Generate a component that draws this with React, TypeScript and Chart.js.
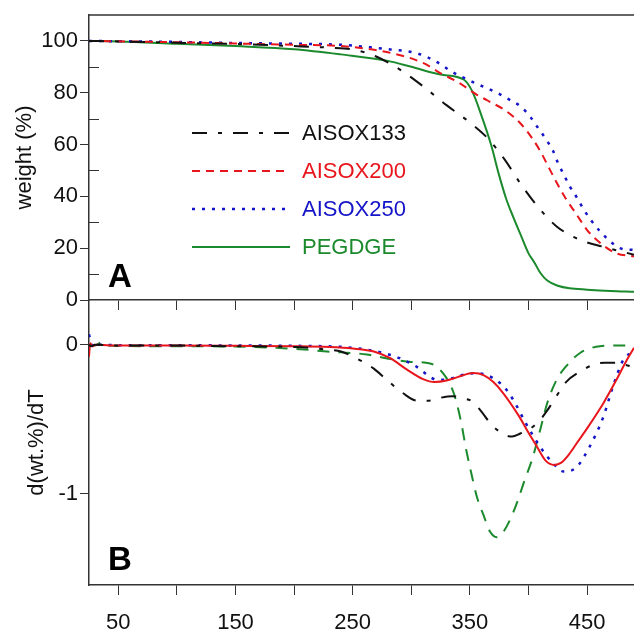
import { useEffect, useRef } from 'react';
import { Chart, registerables } from 'chart.js';

Chart.register(...registerables);

// ---------- axes ----------
const X_MIN = 25;
const X_MAX = 490;
const X_TICKS = [50, 100, 150, 200, 250, 300, 350, 400, 450];
const X_LABELED = [50, 150, 250, 350, 450];
const W_MIN = 0;
const W_MAX = 110;
const W_TICKS = [0, 20, 40, 60, 80, 100];
const W_MINOR = [10, 30, 50, 70, 90];
const D_MIN = -1.61;
const D_MAX = 0.3;
const D_TICKS = [-1, 0];

// ---------- series ----------
const NAMES = ['AISOX133', 'AISOX200', 'AISOX250', 'PEGDGE'];
const COLORS = ['#111111', '#e8161c', '#1414c8', '#1b8a2c'];

// TGA: weight (%)
const T_W133 = [25, 50, 100, 150, 200, 230, 250, 270, 290, 310, 330, 350, 365, 380, 393, 408, 424, 444, 464, 490];
const W133 = [100, 99.8, 99.3, 98.8, 98.0, 97.4, 96.7, 94.0, 89.0, 82.5, 75.2, 68.5, 62.5, 54.0, 45.0, 36.0, 28.4, 23.2, 20.5, 17.5];

const T_W200 = [25, 100, 150, 200, 240, 280, 310, 325, 340, 355, 365, 380, 393, 403, 410, 418, 425, 432, 441, 450, 460, 474, 490];
const W200 = [100, 99.5, 99.0, 98.5, 98.0, 95.6, 91.5, 87.5, 84.0, 79.5, 77.0, 73.2, 68.2, 62.5, 57.5, 50.5, 44.5, 39.0, 33.0, 27.0, 22.5, 18.2, 16.8];

const T_W250 = [25, 100, 150, 200, 240, 282, 305, 322, 335, 353, 373, 383, 393, 401, 408, 415, 421, 425, 430, 435, 441, 447, 453, 461, 470, 478, 490];
const W250 = [100, 99.6, 99.2, 98.9, 98.5, 96.7, 95.2, 91.8, 88.0, 84.0, 80.0, 77.5, 74.8, 71.0, 66.5, 62.0, 57.5, 53.0, 48.5, 44.0, 39.7, 35.0, 31.0, 26.5, 22.5, 20.0, 19.3];

const T_WPEG = [25, 50, 100, 150, 200, 240, 280, 300, 325, 345, 352, 360, 368, 375, 381, 387, 393, 400, 405, 410, 416, 425, 435, 450, 470, 490];
const WPEG = [100, 99.8, 98.9, 98.0, 96.8, 94.8, 92.3, 90.0, 87.0, 85.0, 80.5, 71.0, 60.0, 48.0, 39.0, 32.0, 25.5, 18.0, 14.5, 10.5, 7.5, 5.5, 4.5, 4.0, 3.5, 3.2];

// DTG: d(wt.%)/dT
const T_D133 = [25, 27, 30, 50, 100, 150, 200, 225, 240, 253, 268, 279, 293, 305, 315, 325, 335, 345, 352, 359, 369, 380, 386, 393, 400, 408, 416, 425, 432, 444, 455, 465, 475, 483, 490];
const D133 = [0, -0.01, 0, -0.005, -0.005, -0.01, -0.015, -0.03, -0.045, -0.09, -0.16, -0.235, -0.325, -0.375, -0.375, -0.355, -0.345, -0.36, -0.38, -0.44, -0.54, -0.605, -0.615, -0.595, -0.57, -0.52, -0.44, -0.33, -0.25, -0.18, -0.135, -0.12, -0.12, -0.135, -0.15];

const T_D200 = [25, 26, 28, 31, 50, 100, 150, 200, 230, 250, 268, 282, 296, 310, 320, 330, 340, 353, 362, 370, 378, 392, 400, 407, 415, 422, 428, 435, 442, 450, 464, 475, 484, 490];
const D200 = [-0.08, 0.01, -0.01, 0, -0.005, -0.005, -0.007, -0.01, -0.015, -0.025, -0.045, -0.09, -0.165, -0.23, -0.25, -0.24, -0.215, -0.19, -0.205, -0.25, -0.32, -0.48, -0.59, -0.68, -0.78, -0.805, -0.79, -0.73, -0.65, -0.56, -0.39, -0.235, -0.1, -0.02];

const T_D250 = [25, 27, 30, 33, 50, 100, 150, 200, 250, 276, 290, 305, 315, 322, 332, 345, 356, 365, 373, 380, 387, 398, 410, 421, 430, 441, 452, 464, 472, 481, 490];
const D250 = [0.07, 0.01, -0.02, 0, -0.003, -0.003, -0.005, -0.007, -0.02, -0.055, -0.09, -0.15, -0.21, -0.235, -0.23, -0.2, -0.19, -0.205, -0.24, -0.29, -0.37, -0.53, -0.685, -0.795, -0.85, -0.82, -0.685, -0.48, -0.28, -0.1, -0.045];

const T_DPEG = [25, 30, 37, 42, 50, 100, 150, 205, 228, 262, 282, 300, 316, 327, 336, 342, 347, 352, 356, 362, 367, 373, 378, 385, 391, 397, 403, 410, 416, 424, 432, 444, 461, 478, 490];
const DPEG = [0, -0.005, 0.022, -0.005, -0.008, -0.01, -0.012, -0.03, -0.045, -0.065, -0.095, -0.115, -0.125, -0.19, -0.32, -0.5, -0.71, -0.89, -1.02, -1.15, -1.25, -1.29, -1.26, -1.16, -1.04, -0.9, -0.77, -0.57, -0.39, -0.235, -0.145, -0.055, -0.01, -0.005, -0.005];

// ---------- styles ----------
const FONT = "'Liberation Sans', Arial, sans-serif";
const AXIS = '#333333';
const TEXT = '#111111';
const DASH_TOP = [[15, 11, 4, 11], [8, 6], [3, 7], []];
const DASH_BOT = [[15, 11, 4, 11], [], [3, 7], [12, 9]];

const pts = (xs: number[], ys: number[]) => xs.map((x, i) => ({ x, y: ys[i] }));

const TOP_SERIES = [pts(T_W133, W133), pts(T_W200, W200), pts(T_W250, W250), pts(T_WPEG, WPEG)];
const BOT_SERIES = [pts(T_D133, D133), pts(T_D200, D200), pts(T_D250, D250), pts(T_DPEG, DPEG)];

const makeDatasets = (series: { x: number; y: number }[][], dashes: number[][]) =>
  series.map((data, i) => ({
    label: NAMES[i],
    data,
    borderColor: COLORS[i],
    borderDash: dashes[i],
    borderWidth: dashes[i].length === 2 && dashes[i][0] === 3 ? 2.5 : 2,
    pointRadius: 0,
    fill: false,
    cubicInterpolationMode: 'monotone' as const,
  }));

const xScale = (showLabels: boolean, height: number) => ({
  type: 'linear' as const,
  min: X_MIN,
  max: X_MAX,
  afterBuildTicks: (s: any) => {
    s.ticks = X_TICKS.map((v) => ({ value: v }));
  },
  afterFit: (s: any) => {
    s.height = height;
    s.paddingLeft = 0;
    s.paddingRight = 0;
  },
  grid: { drawOnChartArea: false, drawTicks: true, tickLength: 10, color: AXIS, lineWidth: 1 },
  border: { display: true, color: AXIS, width: 1.5 },
  ticks: {
    display: showLabels,
    padding: 15,
    color: TEXT,
    font: { family: FONT, size: 22 },
    maxRotation: 0,
    autoSkip: false,
    callback: (v: any) => (X_LABELED.includes(Number(v)) ? String(v) : ''),
  },
});

const yScale = (min: number, max: number, ticks: number[], title: string, titlePad: number) => ({
  type: 'linear' as const,
  min,
  max,
  afterBuildTicks: (s: any) => {
    s.ticks = ticks.map((v) => ({ value: v }));
  },
  afterFit: (s: any) => {
    s.width = 89;
    s.paddingTop = 0;
    s.paddingBottom = 0;
  },
  grid: { drawOnChartArea: false, drawTicks: true, tickLength: 9, color: AXIS, lineWidth: 1 },
  border: { display: true, color: AXIS, width: 1.5 },
  ticks: {
    padding: 2,
    color: TEXT,
    font: { family: FONT, size: 22 },
    callback: (v: any) => String(v),
  },
  title: {
    display: true,
    text: title,
    color: TEXT,
    font: { family: FONT, size: 22 },
    padding: { top: titlePad, bottom: 0 },
  },
});

const topDecor = {
  id: 'topDecor',
  afterDraw(chart: any) {
    const { ctx, chartArea, scales } = chart;
    ctx.save();
    ctx.strokeStyle = AXIS;
    ctx.lineWidth = 1.5;
    ctx.beginPath();
    ctx.moveTo(chartArea.left, chartArea.top);
    ctx.lineTo(chartArea.right, chartArea.top);
    ctx.stroke();
    ctx.lineWidth = 1;
    ctx.beginPath();
    W_MINOR.forEach((v) => {
      const y = Math.round(scales.y.getPixelForValue(v)) + 0.5;
      ctx.moveTo(chartArea.left, y);
      ctx.lineTo(chartArea.left + 10, y);
    });
    ctx.stroke();

    // legend
    chart.data.datasets.forEach((ds: any, i: number) => {
      const y = chartArea.top + 118 + i * 38;
      ctx.save();
      ctx.strokeStyle = ds.borderColor;
      ctx.lineWidth = ds.borderWidth;
      ctx.setLineDash(ds.borderDash || []);
      ctx.beginPath();
      ctx.moveTo(chartArea.left + 103, y);
      ctx.lineTo(chartArea.left + 201, y);
      ctx.stroke();
      ctx.restore();
      ctx.fillStyle = ds.borderColor;
      ctx.font = `22px ${FONT}`;
      ctx.textBaseline = 'middle';
      ctx.textAlign = 'left';
      ctx.fillText(ds.label, chartArea.left + 213, y + 1);
    });

    ctx.fillStyle = '#000';
    ctx.font = `bold 33px ${FONT}`;
    ctx.textBaseline = 'alphabetic';
    ctx.fillText('A', chartArea.left + 19, chartArea.bottom - 13);
    ctx.restore();
  },
};

const botDecor = {
  id: 'botDecor',
  afterDraw(chart: any) {
    const { ctx, chartArea } = chart;
    ctx.save();
    ctx.fillStyle = '#000';
    ctx.font = `bold 33px ${FONT}`;
    ctx.textBaseline = 'alphabetic';
    ctx.fillText('B', chartArea.left + 19, chartArea.bottom - 15);
    ctx.restore();
  },
};

export default function App() {
  const topRef = useRef<HTMLCanvasElement>(null);
  const botRef = useRef<HTMLCanvasElement>(null);

  useEffect(() => {
    const top = new Chart(topRef.current as HTMLCanvasElement, {
      type: 'line',
      data: { datasets: makeDatasets(TOP_SERIES, DASH_TOP) as any },
      options: {
        responsive: false,
        animation: false,
        layout: { padding: { top: 15, left: 0, right: 0, bottom: 0 } },
        plugins: { legend: { display: false }, tooltip: { enabled: false } },
        scales: {
          x: xScale(false, 12) as any,
          y: yScale(W_MIN, W_MAX, W_TICKS, 'weight (%)', 12) as any,
        },
      },
      plugins: [topDecor],
    });
    const bot = new Chart(botRef.current as HTMLCanvasElement, {
      type: 'line',
      data: { datasets: makeDatasets(BOT_SERIES, DASH_BOT) as any },
      options: {
        responsive: false,
        animation: false,
        layout: { padding: { top: 0, left: 0, right: 0, bottom: 0 } },
        plugins: { legend: { display: false }, tooltip: { enabled: false } },
        scales: {
          x: xScale(true, 49) as any,
          y: yScale(D_MIN, D_MAX, D_TICKS, 'd(wt.%)/dT', 24) as any,
        },
      },
      plugins: [botDecor],
    });
    return () => {
      top.destroy();
      bot.destroy();
    };
  }, []);

  return (
    <div style={{ position: 'fixed', left: 0, top: 0, width: 634, height: 634, background: '#fff' }}>
      <canvas
        ref={botRef}
        width={634}
        height={334}
        style={{ position: 'absolute', left: 0, top: 300, width: 634, height: 334 }}
      />
      <canvas
        ref={topRef}
        width={634}
        height={312}
        style={{ position: 'absolute', left: 0, top: 0, width: 634, height: 312 }}
      />
    </div>
  );
}
